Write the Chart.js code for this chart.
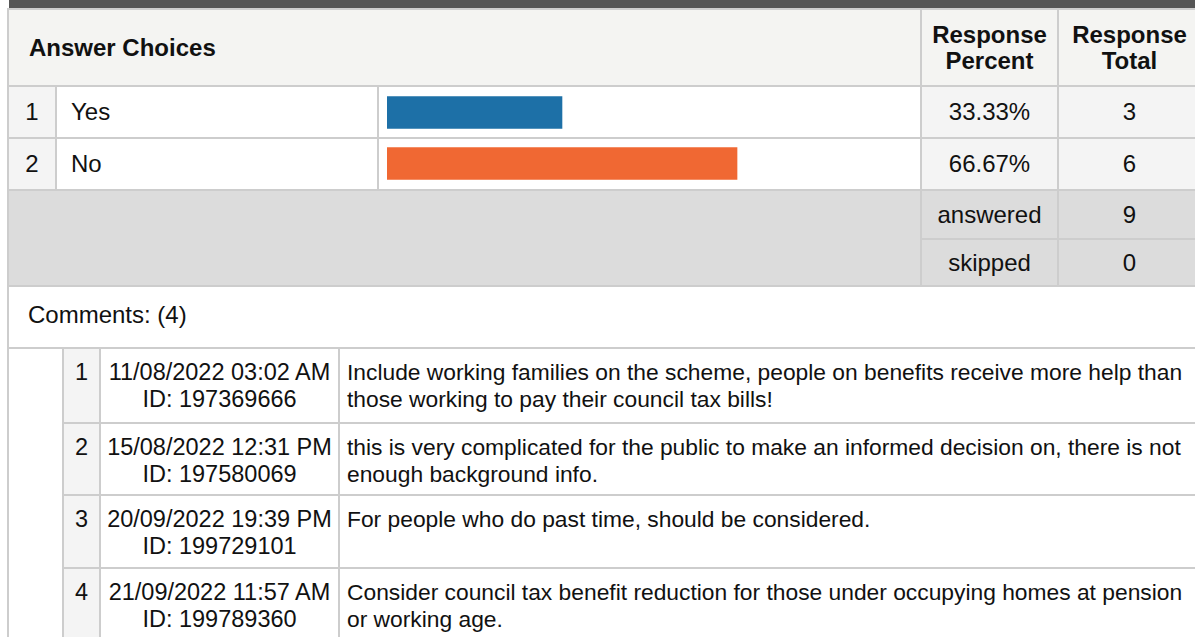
<!DOCTYPE html>
<html>
<head>
<meta charset="utf-8">
<title>Answer Choices</title>
<script src="https://cdn.jsdelivr.net/npm/chart.js@4.4.0/dist/chart.umd.min.js"></script>
<style>
    html, body { margin: 0; padding: 0; background: #fff; overflow: hidden; }
    body { width: 1195px; height: 637px; position: relative; font-family: 'Liberation Sans', Arial, sans-serif; color: #111; }
    .topbar { position: absolute; left: 9px; top: 0; width: 1186px; height: 8px; background: #555555; }
    table { position: absolute; left: 7px; border-collapse: separate; border-spacing: 2px; background: #cdcdcd; table-layout: fixed; }
    td { padding: 0; vertical-align: middle; }
    #summary { top: 8px; width: 1195px; font-size: 24px; }
    #comments { top: 347px; width: 1195px; font-size: 23.5px; }
    .head { background: #f4f4f2; }
    .light { background: #f4f4f4; }
    .white { background: #fff; }
    .gray { background: #dcdcdc; }
    .c { text-align: center; }
    .head b { display: block; line-height: 26px; }
    .top { vertical-align: top; }
    .cm { padding-top: 10px; line-height: 27px; }
    .txt { font-size: 22.8px; padding-left: 7px; padding-right: 5px; }
    #bars { position: absolute; }
</style>
</head>
<body>
<div class="topbar"></div>
<table id="summary"></table>
<table id="comments"></table>
<div id="bars"><canvas id="barChart"></canvas></div>

<script>
// data jawaban
const choices = ['Yes', 'No'];
const responsePercent = [33.33, 66.67];
const responseTotal = [3, 6];
const barColors = ['#1d70a7', '#f06833'];
const answeredCount = 9;
const skippedCount = 0;

// data komentar
const commentDates = ['11/08/2022 03:02 AM', '15/08/2022 12:31 PM', '20/09/2022 19:39 PM', '21/09/2022 11:57 AM'];
const commentIds = ['197369666', '197580069', '199729101', '199789360'];
const commentTexts = [
    'Include working families on the scheme, people on benefits receive more help than those working to pay their council tax bills!',
    'this is very complicated for the public to make an informed decision on, there is not enough background info.',
    'For people who do past time, should be considered.',
    'Consider council tax benefit reduction for those under occupying homes at pension or working age.'
];
const commentRowHeights = [73, 70, 71, 71];

function buildSummary() {
    let html = `
        <colgroup>
            <col style="width:46px"><col style="width:320px"><col style="width:541px">
            <col style="width:135px"><col style="width:141px">
        </colgroup>
        <tr style="height:75px">
            <td colspan="3" class="head"><div style="padding-left:20px;font-weight:bold">Answer Choices</div></td>
            <td class="head c"><b>Response<br>Percent</b></td>
            <td class="head c"><b>Response<br>Total</b></td>
        </tr>
    `;
    choices.forEach((choice, i) => {
        html += `
            <tr style="height:50px">
                <td class="light c">${i + 1}</td>
                <td class="white"><div style="padding-left:14px">${choice}</div></td>
                <td class="white bar-cell"></td>
                <td class="light c">${responsePercent[i].toFixed(2)}%</td>
                <td class="light c">${responseTotal[i]}</td>
            </tr>
        `;
    });
    html += `
        <tr style="height:47px">
            <td colspan="3" rowspan="2" class="gray"></td>
            <td class="gray c">answered</td>
            <td class="gray c">${answeredCount}</td>
        </tr>
        <tr style="height:45px">
            <td class="gray c">skipped</td>
            <td class="gray c">${skippedCount}</td>
        </tr>
        <tr style="height:60px">
            <td colspan="5" class="white top"><div style="padding:14px 0 0 19px">Comments: (${commentTexts.length})</div></td>
        </tr>
    `;
    document.getElementById('summary').innerHTML = html;
}

function buildComments() {
    let html = `
        <colgroup>
            <col style="width:53px"><col style="width:35px"><col style="width:237px"><col style="width:860px">
        </colgroup>
    `;
    commentTexts.forEach((text, i) => {
        html += `
            <tr style="height:${commentRowHeights[i]}px">
                ${i === 0 ? `<td rowspan="${commentTexts.length}" class="white"></td>` : ''}
                <td class="light top c"><div class="cm">${i + 1}</div></td>
                <td class="white top c"><div class="cm">${commentDates[i]}<br>ID: ${commentIds[i]}</div></td>
                <td class="white top"><div class="cm txt">${text}</div></td>
            </tr>
        `;
    });
    document.getElementById('comments').innerHTML = html;
}

// grafik batang diletakkan di atas kolom bar
function createBarChart() {
    const cells = document.querySelectorAll('.bar-cell');
    const first = cells[0].getBoundingClientRect();
    const last = cells[cells.length - 1].getBoundingClientRect();
    const wrap = document.getElementById('bars');
    wrap.style.left = first.left + 'px';
    wrap.style.top = first.top + 'px';
    wrap.style.width = first.width + 'px';
    wrap.style.height = (last.bottom - first.top) + 'px';

    new Chart(document.getElementById('barChart'), {
        type: 'bar',
        data: {
            labels: choices,
            datasets: [{
                data: responsePercent,
                backgroundColor: barColors,
                borderWidth: 0,
                barThickness: 32
            }]
        },
        options: {
            indexAxis: 'y',
            responsive: true,
            maintainAspectRatio: false,
            animation: false,
            layout: { padding: { left: 8, right: 8, top: 0, bottom: 0 } },
            scales: {
                x: { display: false, min: 0, max: 100 },
                y: { display: false }
            },
            plugins: {
                legend: { display: false },
                tooltip: { enabled: false }
            }
        }
    });
}

buildSummary();
buildComments();
createBarChart();
</script>
</body>
</html>
